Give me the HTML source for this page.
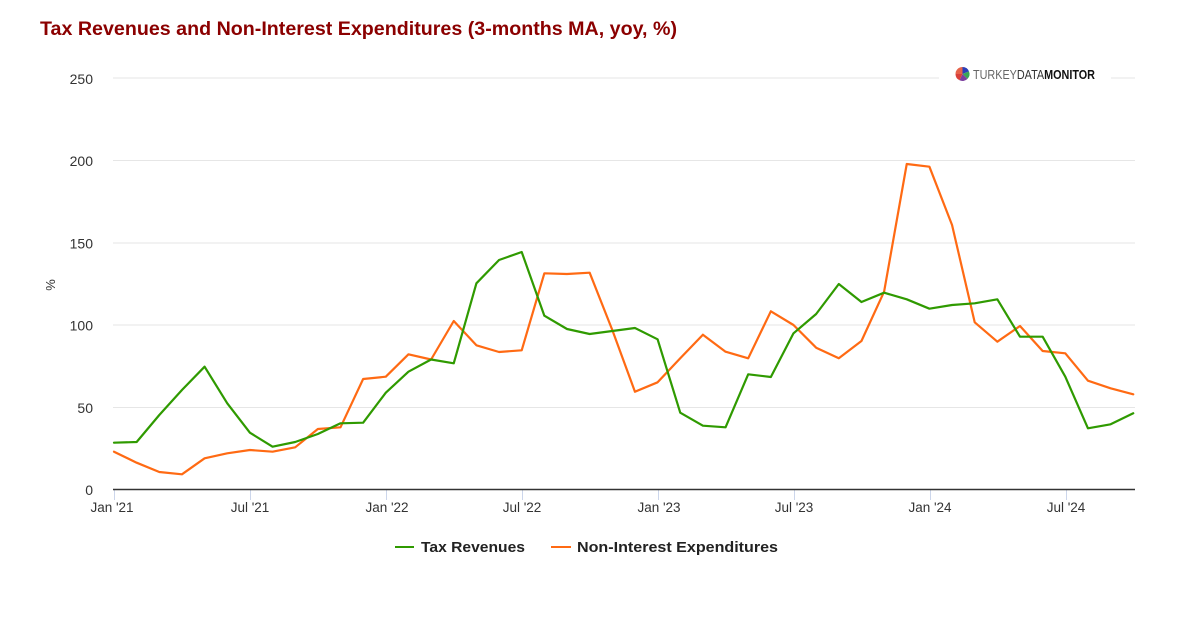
<!DOCTYPE html>
<html>
<head>
<meta charset="utf-8">
<style>
html,body{margin:0;padding:0;background:#fff;}
svg{display:block;}
text{font-family:"Liberation Sans","DejaVu Sans",sans-serif;}
</style>
</head>
<body>
<svg width="1200" height="619" viewBox="0 0 1200 619" xmlns="http://www.w3.org/2000/svg">
<rect width="1200" height="619" fill="#fff"/>
<!-- title -->
<text x="40" y="35" font-size="19.5" font-weight="bold" fill="#8b0000" textLength="637" lengthAdjust="spacingAndGlyphs">Tax Revenues and Non-Interest Expenditures (3-months MA, yoy, %)</text>

<!-- gridlines -->
<g stroke="#e6e6e6" stroke-width="1">
<line x1="113" y1="78" x2="1135" y2="78"/>
<line x1="113" y1="160.5" x2="1135" y2="160.5"/>
<line x1="113" y1="243" x2="1135" y2="243"/>
<line x1="113" y1="325" x2="1135" y2="325"/>
<line x1="113" y1="407.5" x2="1135" y2="407.5"/>
</g>

<!-- logo -->
<rect x="939" y="66" width="172" height="18" fill="#fff"/>
<g transform="translate(962.5,74)">
<path d="M0,0 L0,-7 A7,7 0 0,1 6.5,-2.6 Z" fill="#2b3fb8"/>
<path d="M0,0 L6.5,-2.6 A7,7 0 0,1 5,4.9 Z" fill="#3aa655"/>
<path d="M0,0 L5,4.9 A7,7 0 0,1 -3,6.3 Z" fill="#7b3f9e"/>
<path d="M0,0 L-3,6.3 A7,7 0 0,1 -7,0 Z" fill="#d9403a"/>
<path d="M0,0 L-7,0 A7,7 0 0,1 0,-7 Z" fill="#e6634a"/>
</g>
<text x="973" y="79" font-size="12.5" textLength="122" lengthAdjust="spacingAndGlyphs"><tspan fill="#666">TURKEY</tspan><tspan fill="#333">DATA</tspan><tspan fill="#111" font-weight="bold">MONITOR</tspan></text>

<!-- y labels -->
<g font-size="14" fill="#333" text-anchor="end">
<text x="93" y="84">250</text>
<text x="93" y="166">200</text>
<text x="93" y="248.5">150</text>
<text x="93" y="330.5">100</text>
<text x="93" y="413">50</text>
<text x="93" y="495">0</text>
</g>
<text transform="translate(55,285) rotate(-90)" font-size="13" fill="#333" text-anchor="middle">%</text>

<!-- x ticks -->
<g stroke="#ccd6eb" stroke-width="1">
<line x1="114.5" y1="490" x2="114.5" y2="500"/>
<line x1="250.5" y1="490" x2="250.5" y2="500"/>
<line x1="386.5" y1="490" x2="386.5" y2="500"/>
<line x1="522.5" y1="490" x2="522.5" y2="500"/>
<line x1="658.5" y1="490" x2="658.5" y2="500"/>
<line x1="794.5" y1="490" x2="794.5" y2="500"/>
<line x1="930.5" y1="490" x2="930.5" y2="500"/>
<line x1="1066.5" y1="490" x2="1066.5" y2="500"/>
</g>
<line x1="113" y1="489.5" x2="1135" y2="489.5" stroke="#333" stroke-width="1.5"/>

<g font-size="13.5" fill="#333" text-anchor="middle">
<text x="112" y="512">Jan '21</text>
<text x="250" y="512">Jul '21</text>
<text x="387" y="512">Jan '22</text>
<text x="522" y="512">Jul '22</text>
<text x="659" y="512">Jan '23</text>
<text x="794" y="512">Jul '23</text>
<text x="930" y="512">Jan '24</text>
<text x="1066" y="512">Jul '24</text>
</g>

<!-- series -->
<polyline fill="none" stroke="#ff6a13" stroke-width="2.2" stroke-linejoin="round" stroke-linecap="round" points="114,451.7 136.65,462.7 159.3,472 181.95,474.3 204.6,458.3 227.25,453.3 249.9,450 272.55,451.7 295.2,447.3 317.85,429 340.5,427.3 363.15,379 385.8,376.7 408.45,354.3 431.1,359.5 453.75,321 476.4,345.3 499.05,352 521.7,350.3 544.35,273.3 567,274 589.65,272.7 612.3,330 634.95,391.7 657.6,382.3 680.25,358.3 702.9,334.7 725.55,351.7 748.2,358.3 770.85,311.3 793.5,325 816.15,347.7 838.8,358.3 861.45,341 884.1,291.7 906.75,164 929.4,166.7 952.05,225 974.7,322.3 997.35,341.7 1020,326 1042.65,351 1065.3,353.3 1087.95,380.7 1110.6,388.3 1133.25,394.3"/>
<polyline fill="none" stroke="#2f9a00" stroke-width="2.2" stroke-linejoin="round" stroke-linecap="round" points="114,442.7 136.65,442 159.3,415 181.95,390 204.6,366.7 227.25,403.3 249.9,432.7 272.55,446.7 295.2,442 317.85,434 340.5,423.3 363.15,422.7 385.8,392.7 408.45,371.7 431.1,359.5 453.75,363.3 476.4,283.3 499.05,260 521.7,252 544.35,315.7 567,329 589.65,334 612.3,331 634.95,328 657.6,339.3 680.25,412.7 702.9,425.7 725.55,427.3 748.2,374.3 770.85,377 793.5,333.3 816.15,314 838.8,284 861.45,302 884.1,292.7 906.75,299.3 929.4,308.7 952.05,305 974.7,303.3 997.35,299.3 1020,336.7 1042.65,336.7 1065.3,376.7 1087.95,428.3 1110.6,424.3 1133.25,413.3"/>

<!-- legend -->
<line x1="395" y1="547" x2="414" y2="547" stroke="#2f9a00" stroke-width="2"/>
<text x="421" y="552" font-size="14.5" font-weight="bold" fill="#222" textLength="104" lengthAdjust="spacingAndGlyphs">Tax Revenues</text>
<line x1="551" y1="547" x2="571" y2="547" stroke="#ff6a13" stroke-width="2"/>
<text x="577" y="552" font-size="14.5" font-weight="bold" fill="#222" textLength="201" lengthAdjust="spacingAndGlyphs">Non-Interest Expenditures</text>
</svg>
</body>
</html>
